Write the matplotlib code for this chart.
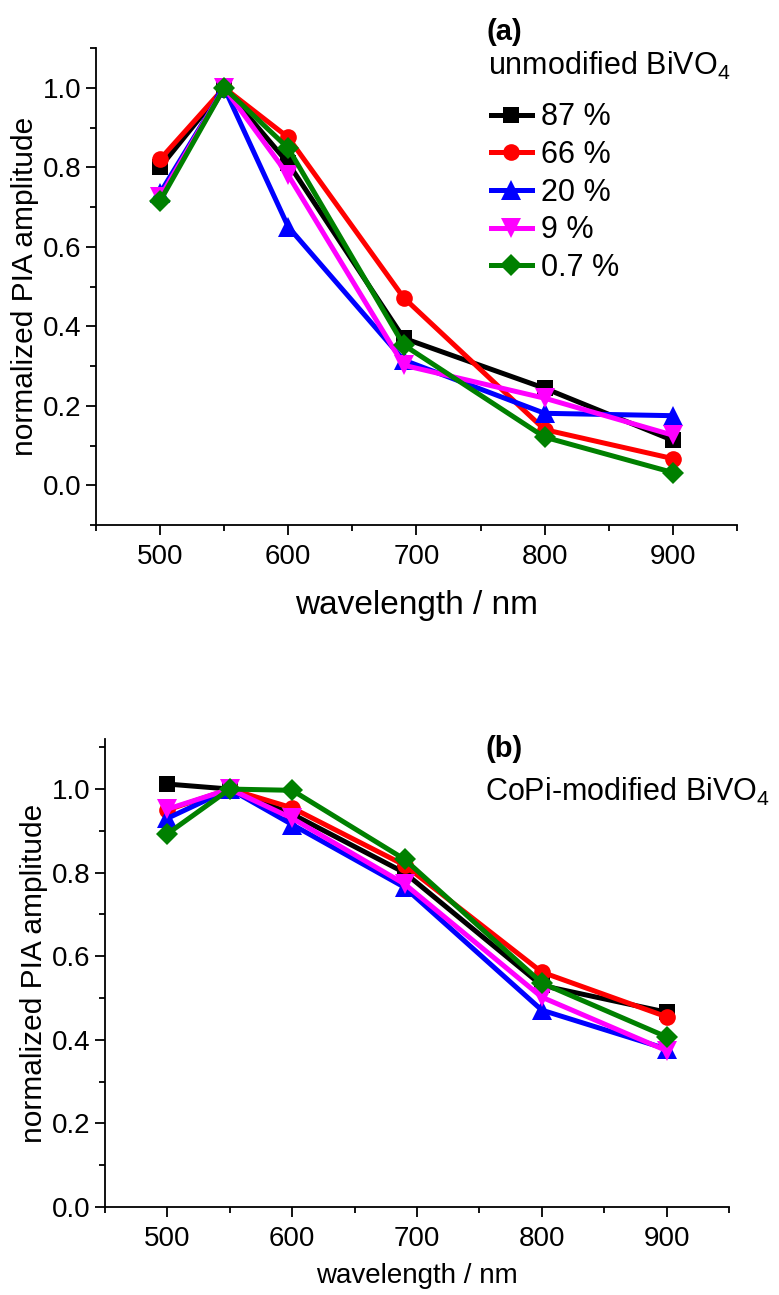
import matplotlib
matplotlib.use('Agg')
import matplotlib.pyplot as plt
from matplotlib.ticker import MultipleLocator

plt.rcParams['font.family'] = ['Liberation Sans', 'DejaVu Sans']
plt.rcParams['mathtext.fontset'] = 'custom'
plt.rcParams['mathtext.rm'] = 'Liberation Sans'
plt.rcParams['mathtext.it'] = 'Liberation Sans'

# wavelengths (nm)
wavelength = [500, 550, 600, 690, 800, 900]
labels = ['87 %', '66 %', '20 %', '9 %', '0.7 %']

# (a) unmodified BiVO4
unmod_87 = [0.80, 1.0, 0.81, 0.370, 0.244, 0.113]
unmod_66 = [0.82, 1.0, 0.875, 0.472, 0.140, 0.067]
unmod_20 = [0.735, 1.0, 0.650, 0.315, 0.181, 0.175]
unmod_9 = [0.725, 1.0, 0.780, 0.302, 0.219, 0.126]
unmod_07 = [0.715, 1.0, 0.848, 0.353, 0.121, 0.032]

# (b) CoPi-modified BiVO4
copi_87 = [1.012, 1.0, 0.940, 0.800, 0.530, 0.466]
copi_66 = [0.950, 1.0, 0.955, 0.818, 0.562, 0.455]
copi_20 = [0.930, 1.0, 0.915, 0.765, 0.471, 0.378]
copi_9 = [0.952, 1.0, 0.930, 0.773, 0.502, 0.374]
copi_07 = [0.893, 1.0, 0.997, 0.832, 0.536, 0.407]

colors = ['#000000', '#ff0000', '#0000ff', '#ff00ff', '#008000']
markers = ['s', 'o', '^', 'v', 'D']
msizes = [11, 12, 14, 14, 11]


def style_axes(ax, ylim, tick_fs):
    ax.set_xlim(450, 950)
    ax.set_ylim(*ylim)
    ax.spines['top'].set_visible(False)
    ax.spines['right'].set_visible(False)
    for s in ('left', 'bottom'):
        ax.spines[s].set_linewidth(1.3)
    ax.xaxis.set_major_locator(MultipleLocator(100))
    ax.xaxis.set_minor_locator(MultipleLocator(50))
    ax.yaxis.set_major_locator(MultipleLocator(0.2))
    ax.yaxis.set_minor_locator(MultipleLocator(0.1))
    ax.yaxis.set_major_formatter(plt.FuncFormatter(lambda v, _: f'{v:.1f}'))
    ax.tick_params(which='major', direction='out', length=7, width=1.3,
                   labelsize=tick_fs)
    ax.tick_params(axis='x', which='major', pad=7)
    ax.tick_params(which='minor', direction='out', length=4, width=1.3)
    ax.set_ylabel('normalized PIA amplitude', fontsize=21.5, labelpad=3)


def plot_series(ax, series):
    for ys, c, m, ms, lbl in zip(series, colors, markers, msizes, labels):
        ax.plot(wavelength, ys, color=c, marker=m, markersize=ms, lw=3.6,
                markeredgewidth=0, label=lbl, clip_on=False)


fig = plt.figure(figsize=(7.79, 12.95), dpi=100)

ax1 = fig.add_axes([0.1232, 0.5946, 0.8228, 0.3683])
plot_series(ax1, [unmod_87, unmod_66, unmod_20, unmod_9, unmod_07])
style_axes(ax1, (-0.1, 1.1), 20)
ax1.set_xlabel('wavelength / nm', fontsize=24, labelpad=14)
ax1.text(0.61, 1.017, '(a)', transform=ax1.transAxes, fontsize=21,
         fontweight='bold', va='baseline')
ax1.text(0.612, 0.943, 'unmodified BiVO$_4$', transform=ax1.transAxes,
         fontsize=22, va='baseline')
ax1.legend(loc='upper left', bbox_to_anchor=(0.616, 0.886), frameon=False,
           fontsize=22, handlelength=1.35, handletextpad=0.3,
           labelspacing=0.25, borderpad=0, borderaxespad=0)

ax2 = fig.add_axes([0.1348, 0.068, 0.801, 0.3614])
plot_series(ax2, [copi_87, copi_66, copi_20, copi_9, copi_07])
style_axes(ax2, (0.0, 1.12), 20)
ax2.set_xlabel('wavelength / nm', fontsize=20, labelpad=8)
ax2.text(0.609, 0.9615, '(b)', transform=ax2.transAxes, fontsize=21,
         fontweight='bold', va='baseline')
ax2.text(0.609, 0.8675, 'CoPi-modified BiVO$_4$', transform=ax2.transAxes,
         fontsize=22, va='baseline')

fig.savefig('out.png', dpi=100, facecolor='white')
